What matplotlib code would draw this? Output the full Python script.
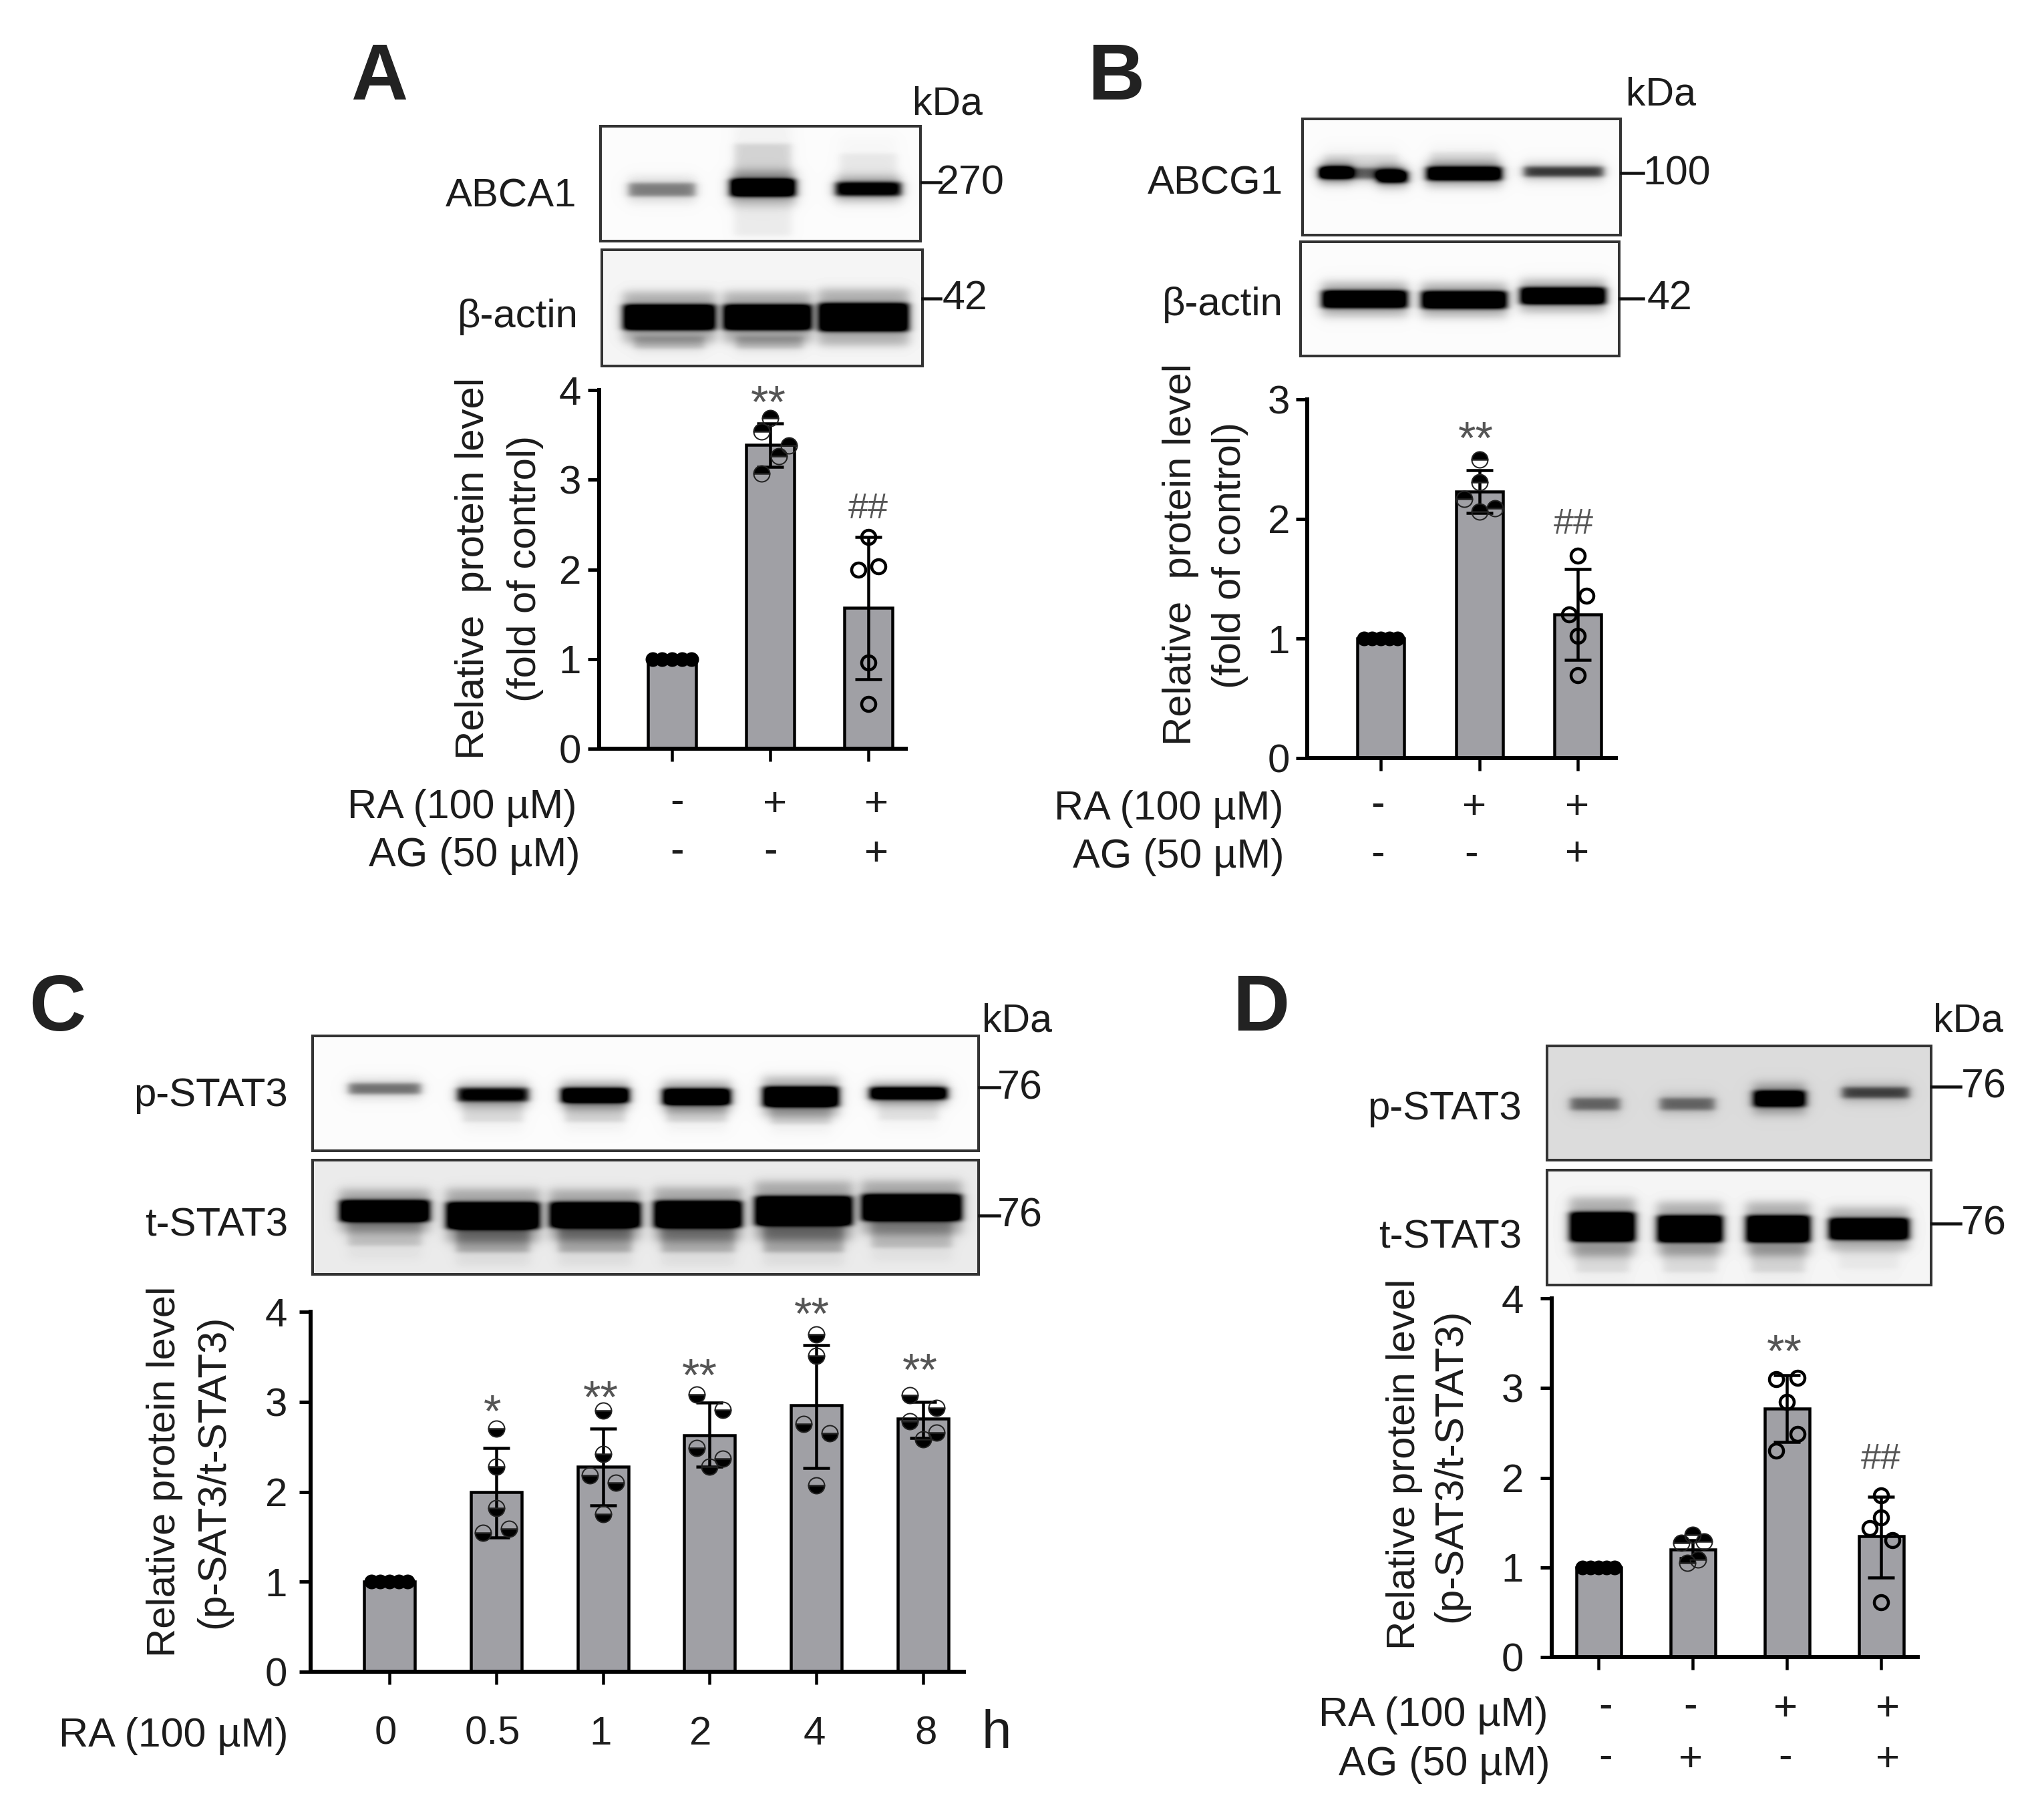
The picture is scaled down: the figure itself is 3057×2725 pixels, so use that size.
import numpy as np
import matplotlib
matplotlib.use("Agg")
import matplotlib.pyplot as plt

plt.rcParams['font.family'] = ['Liberation Sans', 'DejaVu Sans']

W, H = 3057, 2725
P = 0.72  # points per pixel at dpi 100
EM = 60
TXT = '#1c1c1c'
BAR = '#a0a0a5'

# ---- data ----
a_means = [1.0, 3.39, 1.57]
a_err_hi = [1.0, 3.63, 2.36]
a_err_lo = [1.0, 3.14, 0.775]
a_pts = [[1, 1, 1, 1, 1], [3.69, 3.54, 3.38, 3.26, 3.07], [2.36, 2.0, 2.03, 0.96, 0.5]]
a_off = [[-.2, -.1, 0, .1, .2], [0, -.09, .19, .09, -.09], [0, -.1, .1, 0, 0]]
a_fill = ['full', 'top', 'none']

b_means = [1.0, 2.23, 1.20]
b_err_hi = [1.0, 2.41, 1.58]
b_err_lo = [1.0, 2.05, 0.82]
b_pts = [[1, 1, 1, 1, 1], [2.50, 2.31, 2.165, 2.09, 2.06], [1.69, 1.36, 1.20, 1.025, 0.695]]
b_off = [[-.17, -.085, 0, .085, .17], [0, 0, -.15, .16, 0], [0, .09, -.09, 0, 0]]
b_fill = ['full', 'top', 'none']

c_means = [1.0, 2.0, 2.28, 2.63, 2.96, 2.81]
c_err_hi = [1.0, 2.485, 2.70, 2.99, 3.63, 3.0]
c_err_lo = [1.0, 1.49, 1.845, 2.28, 2.26, 2.60]
c_pts = [[1, 1, 1, 1, 1],
         [2.70, 2.28, 1.82, 1.59, 1.54],
         [2.90, 2.42, 2.18, 2.10, 1.75],
         [3.08, 2.91, 2.485, 2.37, 2.28],
         [3.75, 3.51, 2.75, 2.65, 2.07],
         [3.07, 2.93, 2.78, 2.655, 2.58]]
c_off = [[-.17, -.085, 0, .085, .17],
         [0, 0, 0, .123, -.123],
         [0, 0, -.123, .123, 0],
         [-.123, .123, -.123, .123, 0],
         [0, 0, -.123, .123, 0],
         [-.123, .123, -.123, .123, 0]]
c_fill = ['full', 'bottom', 'bottom', 'bottom', 'bottom', 'bottom']

d_means = [1.0, 1.20, 2.77, 1.35]
d_err_hi = [1.0, 1.30, 3.14, 1.79]
d_err_lo = [1.0, 1.10, 2.40, 0.89]
d_pts = [[1, 1, 1, 1, 1],
         [1.36, 1.275, 1.29, 1.09, 1.05],
         [3.10, 3.115, 2.845, 2.49, 2.30],
         [1.80, 1.555, 1.44, 1.30, 0.61]]
d_off = [[-.17, -.085, 0, .085, .17],
         [0, -.12, .12, .06, -.06],
         [-.115, .115, 0, .115, -.115],
         [0, 0, -.12, .12, 0]]
d_fill = ['full', 'top', 'none', 'none']

# ---- layout in reference pixels ----
panels = [
    dict(name='A', x0=897, xend=1356, y0=1121, ytop=584, ymax=4, centers=(1006, 1300),
         width=76, m=a_means, hi=a_err_hi, lo=a_err_lo, pts=a_pts, off=a_off, fill=a_fill, pad=10),
    dict(name='B', x0=1957, xend=2419, y0=1135, ytop=598, ymax=3, centers=(2067, 2362),
         width=74, m=b_means, hi=b_err_hi, lo=b_err_lo, pts=b_pts, off=b_off, fill=b_fill, pad=9),
    dict(name='C', x0=465, xend=1443, y0=2503, ytop=1964, ymax=4, centers=(583, 1382),
         width=80, m=c_means, hi=c_err_hi, lo=c_err_lo, pts=c_pts, off=c_off, fill=c_fill, pad=18),
    dict(name='D', x0=2323, xend=2871, y0=2481, ytop=1944, ymax=4, centers=(2393, 2816),
         width=71, m=d_means, hi=d_err_hi, lo=d_err_lo, pts=d_pts, off=d_off, fill=d_fill, pad=25),
]

fig = plt.figure(figsize=(W / 100, H / 100), dpi=100, facecolor='white')
ov = fig.add_axes([0, 0, 1, 1], zorder=1)
ov.axis('off')


def T(x, y, s, em=EM, ha='center', rot=0, up=0.36, **kw):
    """x, y = visual centre (or edge) in reference px; baseline is derived."""
    kw.setdefault('color', TXT)
    if rot == 90:
        ov.text(x + up * em, y, s, fontsize=em * P, ha='center', va='baseline',
                rotation=90, rotation_mode='anchor', **kw)
    else:
        ov.text(x, y + up * em, s, fontsize=em * P, ha=ha, va='baseline', **kw)


def blot(box, bands, bg=0.985):
    x0, x1, y0, y1 = box
    xs = np.arange(x0, x1) + .5
    ys = np.arange(y0, y1) + .5
    X, Y = np.meshgrid(xs, ys)
    dens = np.zeros_like(X)

    def band(bx, by, bw, bh, d, sx, sy):
        fx = .5 * (np.tanh((X - bx + bw / 2) / sx) - np.tanh((X - bx - bw / 2) / sx))
        fy = .5 * (np.tanh((Y - by + bh / 2) / sy) - np.tanh((Y - by - bh / 2) / sy))
        return d * fx * fy

    for (bx, by, bw, bh, d) in bands:
        dens = dens + band(bx, by, bw, bh, d, 7.0, 3.5)
        dens = dens + band(bx, by, bw, bh * 2.0, d * .28, 10.0, 8.0)
    img = bg * (1 - np.clip(dens * 1.05, 0, 1))
    ov.imshow(img, extent=(x0, x1, y1, y0), cmap='gray', vmin=0, vmax=1, aspect='auto',
              interpolation='bilinear', zorder=1)
    ov.plot([x0, x1, x1, x0, x0], [y0, y0, y1, y1, y0], color='#333333', lw=4 * P, zorder=2,
            solid_joinstyle='miter')


# ---- blots ----
blot((899, 1378, 189, 361), [(991, 284, 100, 20, .38), (1142, 281, 98, 26, 1), (1300, 283, 98, 20, .85),
                             (1142, 245, 85, 60, .12), (1300, 255, 85, 50, .06), (1142, 330, 85, 45, .05)])
blot((901, 1381, 374, 548), [(1002, 475, 138, 38, 1), (1149, 475, 132, 38, 1), (1293, 475, 135, 42, 1),
                             (1002, 513, 105, 18, .16), (1152, 513, 100, 18, .16)], bg=.96)
blot((1950, 2426, 178, 352), [(2000, 258, 48, 17, .85), (2038, 260, 126, 16, .45), (2085, 265, 45, 17, .9),
                              (2192, 260, 113, 20, 1), (2341, 257, 119, 15, .6),
                              (2038, 243, 110, 25, .08), (2192, 240, 100, 25, .08)])
blot((1947, 2424, 362, 533), [(2043, 448, 128, 26, 1), (2192, 449, 128, 26, 1), (2340, 443, 128, 25, 1)])
blot((468, 1465, 1551, 1723), [(576, 1630, 108, 16, .42), (738, 1639, 106, 20, .8), (891, 1640, 102, 22, 1),
                               (1043, 1642, 102, 24, 1), (1199, 1642, 114, 30, 1), (1360, 1637, 116, 18, 1),
                               (738, 1665, 90, 30, .1), (891, 1665, 90, 30, .12), (1043, 1665, 90, 30, .12),
                               (1199, 1668, 90, 30, .12), (1360, 1662, 90, 30, .08)])
blot((468, 1465, 1737, 1908), [(576, 1813, 135, 32, 1), (738, 1820, 140, 40, 1), (891, 1819, 136, 38, 1),
                               (1045, 1818, 132, 40, 1), (1203, 1813, 146, 44, 1), (1365, 1808, 150, 40, 1),
                               (576, 1845, 110, 40, .14), (738, 1855, 110, 40, .22), (891, 1855, 110, 40, .22),
                               (1045, 1855, 110, 40, .2), (1203, 1855, 120, 40, .22), (1365, 1848, 120, 40, .16)],
     bg=.92)
blot((2316, 2891, 1566, 1737), [(2388, 1653, 74, 18, .42), (2526, 1653, 82, 18, .42), (2664, 1645, 78, 24, 1),
                                (2808, 1636, 100, 16, .55)], bg=.86)
blot((2316, 2891, 1752, 1924), [(2399, 1837, 98, 44, 1), (2530, 1840, 98, 40, 1), (2662, 1840, 96, 40, 1),
                                (2798, 1840, 120, 32, 1), (2399, 1885, 80, 40, .08), (2530, 1885, 80, 40, .08),
                                (2662, 1885, 80, 40, .1), (2798, 1885, 90, 30, .04)], bg=.96)

# marker lines next to blots
for (x0, x1, y) in [(1380, 1408, 273), (1381, 1408, 447), (2427, 2460, 259), (2425, 2460, 447),
                    (1466, 1496, 1628), (1466, 1496, 1820), (2892, 2935, 1627), (2892, 2935, 1832)]:
    ov.plot([x0, x1], [y, y], color='#111111', lw=4.5 * P, zorder=3)

# ---- bar panels ----
for p in panels:
    n = len(p['m'])
    step = (p['centers'][1] - p['centers'][0]) / (n - 1)
    left = p['x0'] / W
    bottom = 1 - p['y0'] / H
    ax = fig.add_axes([left, bottom, (p['xend'] - p['x0']) / W, (p['y0'] - p['ytop']) / H],
                      zorder=2, facecolor='none')
    idx = np.arange(n)
    ax.set_xlim((p['x0'] - p['centers'][0]) / step, (p['xend'] - p['centers'][0]) / step)
    ax.set_ylim(0, p['ymax'])
    ax.bar(idx, p['m'], width=(p['width'] - 4) / step, color=BAR, edgecolor='black', linewidth=4.5 * P, zorder=2)
    for i in idx:
        if p['hi'][i] > p['lo'][i]:
            ax.errorbar(i, p['m'][i],
                        yerr=[[p['m'][i] - p['lo'][i]], [p['hi'][i] - p['m'][i]]],
                        color='black', elinewidth=4.5 * P, capsize=20 * P, capthick=4.5 * P, zorder=4)
        xs = i + np.array(p['off'][i])
        fs = p['fill'][i]
        if fs == 'full':
            ax.plot(xs, p['pts'][i], 'o', ms=20 * P, mfc='black', mec='black', mew=2 * P, ls='none',
                    zorder=5, clip_on=False)
        elif fs == 'none':
            ax.plot(xs, p['pts'][i], 'o', ms=21 * P, mfc='none', mec='black', mew=4.5 * P, ls='none',
                    zorder=5, clip_on=False)
        else:
            ax.plot(xs, p['pts'][i], 'o', ms=24 * P, fillstyle=fs, mfc='black', markerfacecoloralt='none',
                    mec='#222222', mew=2 * P, ls='none', zorder=5, clip_on=False)
    for s in ('top', 'right'):
        ax.spines[s].set_visible(False)
    ax.spines['left'].set_linewidth(6 * P)
    ax.spines['bottom'].set_linewidth(6 * P)
    ax.spines['left'].set_zorder(6)
    ax.spines['bottom'].set_zorder(6)
    ax.set_yticks(np.arange(p['ymax'] + 1))
    ax.set_xticks(idx)
    ax.set_xticklabels([])
    ax.tick_params(axis='y', length=17 * P, width=5 * P, labelsize=EM * P, pad=p['pad'] * P, labelcolor=TXT)
    ax.tick_params(axis='x', length=19 * P, width=4.5 * P)

# ---- text: panel letters ----
for (x, y, s) in [(568, 107, 'A'), (1671, 107, 'B'), (86, 1501, 'C'), (1888, 1501, 'D')]:
    T(x, y, s, em=118, fontweight='bold', color='#222222')

# kDa & sizes
for (x, y, s) in [(1418, 150, 'kDa'), (2487, 136, 'kDa'), (1523, 1523, 'kDa'), (2946, 1523, 'kDa')]:
    T(x, y, s, em=59)
for (x, y, s) in [(1453, 269, '270'), (1445, 441, '42'), (2510, 255, '100'), (2500, 441, '42'),
                  (1527, 1624, '76'), (1527, 1815, '76'), (2970, 1622, '76'), (2970, 1827, '76')]:
    T(x, y, s, em=61)

# protein labels
for (x, y, s) in [(863, 288, 'ABCA1'), (866, 468, 'β-actin'), (1921, 269, 'ABCG1'), (1921, 450, 'β-actin'),
                  (431, 1634, 'p-STAT3'), (431, 1829, 't-STAT3'), (2278, 1654, 'p-STAT3'), (2278, 1847, 't-STAT3')]:
    T(x, y, s, ha='right', em=60)

# y labels
for (x, y, s) in [(702, 851, 'Relative  protein level'), (780, 851, '(fold of control)'),
                  (1761, 830, 'Relative  protein level'), (1835, 831, '(fold of control)'),
                  (240, 2203, 'Relative protein level'), (314, 2203, '(p-SAT3/t-STAT3)'),
                  (2096, 2192, 'Relative protein level'), (2166, 2194, '(p-SAT3/t-STAT3)')]:
    T(x, y, s, rot=90, em=60)

# treatment rows
for (x, y, s) in [(864, 1203, 'RA (100 µM)'), (868, 1275, 'AG (50 µM)'),
                  (1921, 1205, 'RA (100 µM)'), (1923, 1277, 'AG (50 µM)'),
                  (431, 2593, 'RA (100 µM)'),
                  (2317, 2562, 'RA (100 µM)'), (2320, 2636, 'AG (50 µM)')]:
    T(x, y, s, ha='right', em=61)

marks = [(1014, 1201, '-'), (1160, 1201, '+'), (1312, 1201, '+'),
         (1014, 1275, '-'), (1154, 1275, '-'), (1312, 1275, '+'),
         (2063, 1205, '-'), (2207, 1205, '+'), (2361, 1205, '+'),
         (2063, 1279, '-'), (2203, 1279, '-'), (2361, 1275, '+'),
         (2404, 2555, '-'), (2531, 2555, '-'), (2673, 2555, '+'), (2826, 2555, '+'),
         (2404, 2631, '-'), (2531, 2631, '+'), (2673, 2631, '-'), (2826, 2631, '+')]
for (x, y, s) in marks:
    T(x, y, s, up=0.27 if s == '-' else 0.33, em=62)

for (x, s) in [(577, '0'), (737, '0.5'), (899, '1'), (1049, '2'), (1219, '4'), (1386, '8')]:
    T(x, 2590, s, em=60)
T(1492, 2588, 'h', em=80)

# significance marks
for (x, y, s) in [(1150, 591, '**'), (2209, 645, '**'), (737, 2102, '*'), (899, 2081, '**'),
                  (1047, 2048, '**'), (1215, 1956, '**'), (1377, 2040, '**'), (2671, 2012, '**')]:
    T(x, y, s, up=0.50, em=68, color='#555555')
for (x, y, s) in [(1300, 757, '##'), (2356, 780, '##'), (2816, 2180, '##')]:
    T(x, y, s, up=0.35, em=54, color='#555555', fontweight='light')

ov.set_xlim(0, W)
ov.set_ylim(H, 0)

fig.savefig('out.png', dpi=100, facecolor='white')
